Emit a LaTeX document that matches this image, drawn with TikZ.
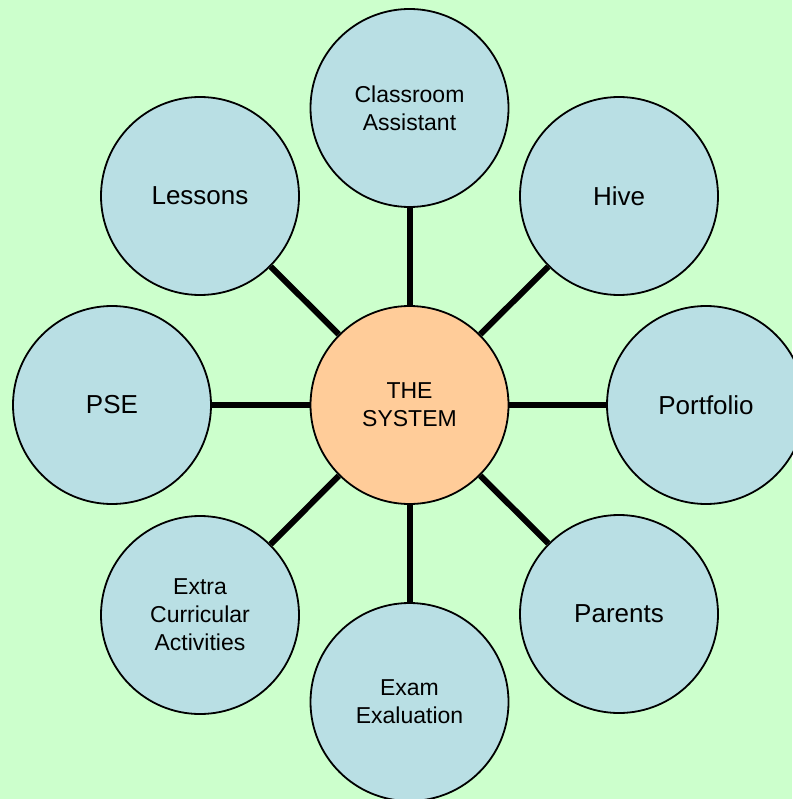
\documentclass[tikz,border=0pt]{standalone}
\usepackage{fontspec}
\setmainfont{Liberation Sans}
\usepackage{tikz}
\definecolor{bggreen}{HTML}{CCFFCC}
\definecolor{topicblue}{HTML}{B9DFE4}
\definecolor{corepeach}{HTML}{FFCC99}

\begin{document}
\begin{tikzpicture}[x=1pt, y=-1pt,
                topic/.style={circle, draw=black, line width=1.8pt, fill=topicblue, minimum size=198pt, inner sep=0pt, align=center, font=\fontsize{23}{28}\selectfont},
                bigtopic/.style={topic, font=\fontsize{26}{31}\selectfont},
                link/.style={line width=6pt, black}]
                \fill [bggreen] (0,0) rectangle (792,799);
                \useasboundingbox (0,0) rectangle (792,799);

                \node [topic, fill=corepeach] (sys) at (409.5,405) {THE\\SYSTEM};

                \node [topic] (cls) at (409.5,108) {Classroom\\Assistant};
                \node [bigtopic] (hive) at (619,196) {Hive};
                \node [bigtopic] (port) at (706,405) {Portfolio};
                \node [bigtopic] (par) at (619,614) {Parents};
                \node [topic] (exam) at (409.5,702) {Exam\\Exaluation};
                \node [topic] (extra) at (200,615) {Extra\\Curricular\\Activities};
                \node [bigtopic] (pse) at (112,405) {PSE};
                \node [bigtopic] (less) at (200,196) {Lessons};

                \draw [link] (sys) -- (cls);
                \draw [link] (sys) -- (hive);
                \draw [link] (sys) -- (port);
                \draw [link] (sys) -- (par);
                \draw [link] (sys) -- (exam);
                \draw [link] (sys) -- (extra);
                \draw [link] (sys) -- (pse);
                \draw [link] (sys) -- (less);
            \end{tikzpicture}
\end{document}
